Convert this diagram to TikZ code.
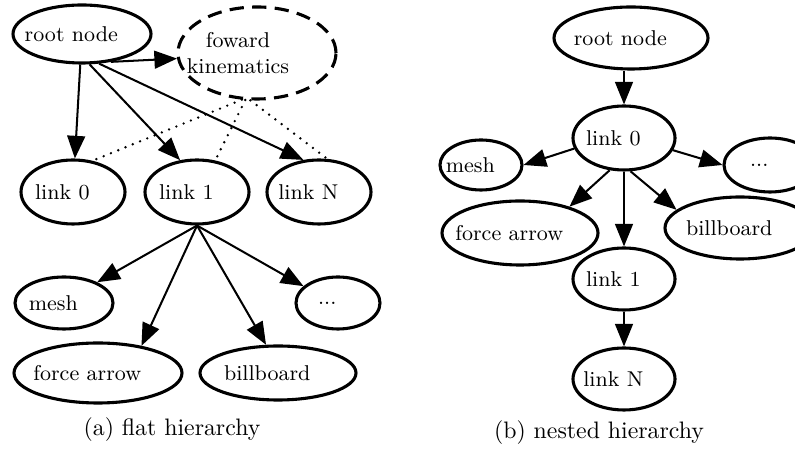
\documentclass[tikz,border=0pt]{standalone}
\usepackage{tikz}
\usetikzlibrary{arrows.meta, shapes.geometric}

\begin{document}
\begin{tikzpicture}[
    x=0.42pt, y=-0.42pt, % one unit is one pixel of the figure
    % --- Styles ---
    % Style for the ellipse nodes, size given as {width}{height}
    ell/.style 2 args={
        ellipse, draw, line width=1.3pt,
        minimum width=#1*0.42pt, minimum height=#2*0.42pt,
        inner xsep=-6pt, inner ysep=0pt,
        font=\small,
        execute at end node={\hspace*{9pt}} % text sits a bit to the left
    },
    % Style for the dashed kinematics node
    fk-style/.style={
        dash pattern=on 6pt off 3.5pt,
        inner xsep=-12pt,
        execute at end node={}
    },
    % Style for the arrows between nodes
    edge-arrow/.style={
        -{Triangle[length=9.5pt, width=7.5pt]},
        line width=0.85pt
    },
    % Style for the dotted kinematics links
    fk-link/.style={
        line width=1.1pt,
        dash pattern=on 0pt off 3.3pt,
        line cap=round
    },
    % Style for the sub-figure captions
    caption/.style={
        font=\normalsize
    }
]

\useasboundingbox (0,0) rectangle (795,449);

% --- (a) flat hierarchy ---
\node[ell={138}{58}] (root-a) at (82,34) {root node};
\node[ell={158}{92}, fk-style, align=center] (fk-a) at (257,53)
    {foward\hspace*{7pt}\\kinematics\hspace*{7pt}};

\node[ell={104}{64}] (link0-a) at (73,192) {link 0};
\node[ell={104}{64}] (link1-a) at (197,192) {link 1};
\node[ell={104}{64}] (linkN-a) at (319,192) {link N};

\node[ell={98}{52}] (mesh-a) at (64,303) {mesh};
\node[ell={84}{52}, execute at end node={}] (dots-a) at (338,303) {...};
\node[ell={168}{60}] (force-a) at (98,373) {force arrow};
\node[ell={156}{54}] (bill-a) at (278,373) {billboard};

% root node to kinematics and links
\draw[edge-arrow] (root-a.-44) -- (fk-a.184);
\draw[edge-arrow] (root-a) -- (link0-a);
\draw[edge-arrow] (root-a.-76) -- (link1-a.118);
\draw[edge-arrow] (root-a.-60) -- (linkN-a.116);

% kinematics acts on every link
\draw[fk-link] (fk-a.-108) -- (link0-a.58);
\draw[fk-link] (fk-a.-104) -- (link1-a.60);
\draw[fk-link] (fk-a.-98) -- (linkN-a.76);

% children of link 1
\draw[edge-arrow] (link1-a.south) -- (mesh-a.32);
\draw[edge-arrow] (link1-a.south) -- (force-a.32);
\draw[edge-arrow] (link1-a.south) -- (bill-a.113);
\draw[edge-arrow] (link1-a.south) -- (dots-a.154);

\node[caption] (cap-a) at (172,430) {(a) flat hierarchy};

% --- (b) nested hierarchy ---
\node[ell={154}{62}] (root-b) at (631,38) {root node};
\node[ell={102}{64}] (link0-b) at (624,138) {link 0};

\node[ell={82}{50}] (mesh-b) at (481,165) {mesh};
\node[ell={92}{54}, execute at end node={}] (dots-b) at (770,165) {...};
\node[ell={156}{64}] (force-b) at (520,233) {force arrow};
\node[ell={150}{62}] (bill-b) at (740,228) {billboard};

\node[ell={102}{62}] (link1-b) at (624,279) {link 1};
\node[ell={102}{62}] (linkN-b) at (624,379) {link N};

\draw[edge-arrow] (root-b.south -| link0-b.north) -- (link0-b);
\draw[edge-arrow] (link0-b.192) -- (mesh-b.east);
\draw[edge-arrow] (link0-b.-14) -- (dots-b.west);
\draw[edge-arrow] (link0-b.-114) -- (force-b.28);
\draw[edge-arrow] (link0-b) -- (link1-b);
\draw[edge-arrow] (link0-b.-79) -- (bill-b.164);
\draw[edge-arrow] (link1-b) -- (linkN-b);

\node[caption] (cap-b) at (599,433) {(b) nested hierarchy};

\end{tikzpicture}
\end{document}
